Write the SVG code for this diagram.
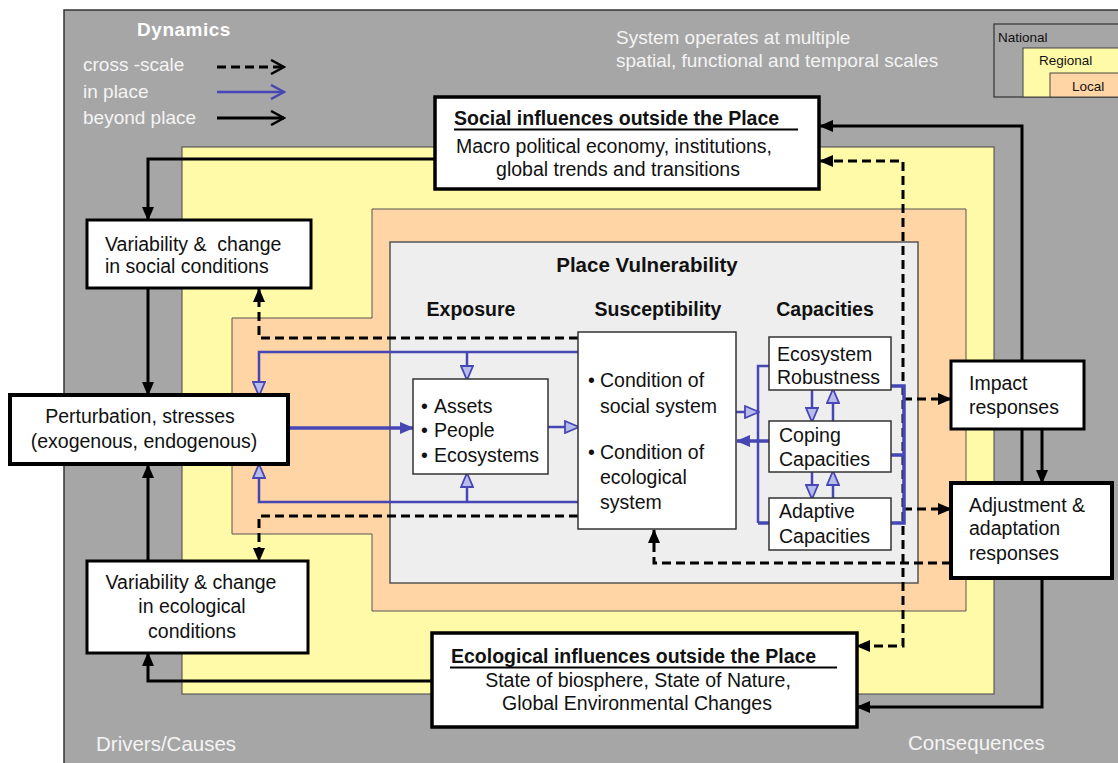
<svg xmlns="http://www.w3.org/2000/svg" width="1118" height="763" viewBox="0 0 1118 763">
<style>
text{font-family:"Liberation Sans",Arial,sans-serif;fill:#111}
.b{font-size:19.5px}
.h{font-size:19.5px;font-weight:bold}
.lt{fill:#f4f4f4;font-size:19px}
.lc{fill:#f4f4f4;font-size:20.5px}
.lg{font-size:13.5px}
.box{fill:#fff;stroke:#000}
.ibox{fill:#fff;stroke:#333;stroke-width:1.5}
.k{fill:none;stroke:#000;stroke-width:3}
.d{fill:none;stroke:#000;stroke-width:3;stroke-dasharray:9 5}
.u{fill:none;stroke:#4646b4;stroke-width:2.5}
.uf{fill:none;stroke:#4646b4;stroke-width:3.5}
.ul{stroke:#000;stroke-width:2}
</style>
<defs>
<marker id="ak" markerUnits="userSpaceOnUse" viewBox="0 0 14 12" markerWidth="14" markerHeight="12" refX="13" refY="6" orient="auto-start-reverse"><path d="M0,0 L14,6 L0,12 z" fill="#000"/></marker>
<marker id="ab" markerUnits="userSpaceOnUse" viewBox="0 0 16 14" markerWidth="16" markerHeight="14" refX="14" refY="7" orient="auto"><path d="M1,1 L15,7 L1,13 z" fill="#b8bcec" stroke="#4646b4" stroke-width="1.8"/></marker>
<marker id="abf" markerUnits="userSpaceOnUse" viewBox="0 0 14 12" markerWidth="14" markerHeight="12" refX="13" refY="6" orient="auto"><path d="M0,0 L14,6 L0,12 z" fill="#4646b4"/></marker>
<marker id="chk" markerUnits="userSpaceOnUse" viewBox="0 0 16 16" markerWidth="16" markerHeight="16" refX="14" refY="8" orient="auto"><path d="M1,1 L14,8 L1,15" fill="none" stroke="#000" stroke-width="2.5"/></marker>
<marker id="chb" markerUnits="userSpaceOnUse" viewBox="0 0 16 16" markerWidth="16" markerHeight="16" refX="14" refY="8" orient="auto"><path d="M1,1 L14,8 L1,15" fill="none" stroke="#4646b4" stroke-width="2.5"/></marker>
</defs>

<!-- scale layers -->
<g id="layers">
<rect x="64" y="10" width="1060" height="760" fill="#a6a6a6" stroke="#333" stroke-width="1.5"/>
<rect x="182" y="147" width="812" height="547" fill="#fffaa8" stroke="#444" stroke-width="1"/>
<polygon points="372,209 966,209 966,611 372,611 372,534 232,534 232,318 372,318" fill="#ffd5a6" stroke="#555" stroke-width="1"/>
<rect x="390" y="242" width="528" height="341" fill="#eeeeee" stroke="#555" stroke-width="1.5"/>
</g>

<!-- legend -->
<g id="legend-dynamics">
<text x="184" y="36" text-anchor="middle" style="fill:#fff;font-size:19px;font-weight:bold;letter-spacing:0.5px">Dynamics</text>
<text x="83" y="71" class="lt">cross -scale</text>
<text x="83" y="98" class="lt">in place</text>
<text x="83" y="124" class="lt">beyond place</text>
<path d="M217,67 H284" class="d" stroke-dasharray="4 4 9 5 9 5 9 5 9 5" marker-end="url(#chk)"/>
<path d="M217,92 H284" class="u" marker-end="url(#chb)"/>
<path d="M217,118 H284" class="k" marker-end="url(#chk)"/>
</g>
<g id="legend-scales">
<text x="616" y="44" class="lt">System operates at multiple</text>
<text x="616" y="67" class="lt">spatial, functional and temporal scales</text>
<rect x="994" y="24" width="130" height="73" fill="#a6a6a6" stroke="#333" stroke-width="1.2"/>
<rect x="1023" y="48" width="100" height="49" fill="#fffaa8" stroke="#444" stroke-width="1"/>
<rect x="1050" y="73" width="80" height="24" fill="#ffd5a6" stroke="#444" stroke-width="1"/>
<text x="998" y="42" class="lg">National</text>
<text x="1039" y="65" class="lg">Regional</text>
<text x="1072" y="91" class="lg">Local</text>
</g>
<text x="96" y="751" class="lc">Drivers/Causes</text>
<text x="908" y="750" class="lc">Consequences</text>

<!-- connectors -->
<g id="connectors">
<!-- beyond place -->
<path d="M435,159 H148 V220" class="k" marker-end="url(#ak)"/>
<path d="M148,289 V395" class="k" marker-end="url(#ak)"/>
<path d="M148,561 V465" class="k" marker-end="url(#ak)"/>
<path d="M432,681 H148 V653" class="k" marker-end="url(#ak)"/>
<path d="M1022,483 V126 H820" class="k" marker-end="url(#ak)"/>
<path d="M1042,429 V483" class="k" marker-end="url(#ak)"/>
<path d="M1042,578 V707 H857" class="k" marker-end="url(#ak)"/>
<!-- cross-scale -->
<path d="M578,338 H259 V289" class="d" marker-end="url(#ak)"/>
<path d="M578,516 H259 V561" class="d" marker-end="url(#ak)"/>
<path d="M820,161 H903 V646 H857" class="d" marker-start="url(#ak)" marker-end="url(#ak)"/>
<path d="M903,399 H951" class="d" marker-end="url(#ak)"/>
<path d="M903,509 H951" class="d" marker-end="url(#ak)"/>
<path d="M951,563 H654 V530" class="d" marker-end="url(#ak)"/>
<!-- in place -->
<path d="M578,352 H259 V395" class="u" marker-end="url(#ab)"/>
<path d="M467,352 V379" class="u" marker-end="url(#ab)"/>
<path d="M578,502 H259 V465" class="u" marker-end="url(#ab)"/>
<path d="M467,502 V474" class="u" marker-end="url(#ab)"/>
<path d="M288,428 H413" class="uf" marker-end="url(#abf)"/>
<path d="M548,427 H578" class="u" marker-end="url(#ab)"/>
<path d="M736,412 H758" class="u" marker-end="url(#ab)"/>
<path d="M769,441 H737" class="uf" marker-end="url(#abf)"/>
<path d="M769,366 H758 V523" class="u" stroke-width="2"/>
<path d="M758,523 H769" class="uf"/>
<path d="M891,386 H904 V523 H891" class="uf"/>
<path d="M891,455 H904" class="uf"/>
<path d="M812,390 V421" class="u" marker-end="url(#ab)"/>
<path d="M833,421 V390" class="u" marker-end="url(#ab)"/>
<path d="M812,472 V498" class="u" marker-end="url(#ab)"/>
<path d="M833,498 V472" class="u" marker-end="url(#ab)"/>
</g>

<!-- nodes -->
<g id="social-influences">
<rect x="435" y="97" width="384" height="92" class="box" stroke-width="3.5"/>
<text x="454" y="125" class="h">Social influences outside the Place</text>
<line x1="454" y1="129.5" x2="798" y2="129.5" class="ul"/>
<text x="614" y="153" class="b" text-anchor="middle">Macro political economy, institutions,</text>
<text x="618" y="176" class="b" text-anchor="middle">global trends and transitions</text>
</g>
<g id="ecological-influences">
<rect x="432" y="633" width="425" height="94" class="box" stroke-width="3.5"/>
<text x="451" y="663" class="h">Ecological influences outside the Place</text>
<line x1="450" y1="667.5" x2="837" y2="667.5" class="ul"/>
<text x="638" y="687" class="b" text-anchor="middle">State of biosphere, State of Nature,</text>
<text x="637" y="710" class="b" text-anchor="middle">Global Environmental Changes</text>
</g>
<g id="var-social">
<rect x="87" y="220" width="224" height="68" class="box" stroke-width="3"/>
<text x="105" y="251" class="b" style="white-space:pre">Variability &amp;  change</text>
<text x="105" y="273" class="b">in social conditions</text>
</g>
<g id="perturbation">
<rect x="10" y="395" width="278" height="69" class="box" stroke-width="4"/>
<text x="140" y="423" class="b" text-anchor="middle">Perturbation, stresses</text>
<text x="144" y="448" class="b" text-anchor="middle">(exogenous, endogenous)</text>
</g>
<g id="var-ecological">
<rect x="87" y="561" width="221" height="92" class="box" stroke-width="3"/>
<text x="191" y="589" class="b" text-anchor="middle">Variability &amp; change</text>
<text x="192" y="613" class="b" text-anchor="middle">in ecological</text>
<text x="192" y="638" class="b" text-anchor="middle">conditions</text>
</g>
<g id="impact">
<rect x="951" y="361" width="133" height="68" class="box" stroke-width="3"/>
<text x="969" y="390" class="b">Impact</text>
<text x="969" y="414" class="b">responses</text>
</g>
<g id="adjustment">
<rect x="951" y="483" width="161" height="95" class="box" stroke-width="4"/>
<text x="969" y="512" class="b">Adjustment &amp;</text>
<text x="969" y="535" class="b">adaptation</text>
<text x="969" y="560" class="b">responses</text>
</g>
<g id="place-vulnerability">
<text x="647" y="272" text-anchor="middle" style="font-size:20.5px;font-weight:bold">Place Vulnerability</text>
<text x="471" y="316" class="h" text-anchor="middle">Exposure</text>
<text x="658" y="316" class="h" text-anchor="middle">Susceptibility</text>
<text x="825" y="316" class="h" text-anchor="middle">Capacities</text>
</g>
<g id="exposure">
<rect x="413" y="379" width="135" height="95" class="ibox"/>
<text x="421" y="413" class="b">•</text><text x="434" y="413" class="b">Assets</text>
<text x="421" y="437" class="b">•</text><text x="434" y="437" class="b">People</text>
<text x="421" y="462" class="b">•</text><text x="434" y="462" class="b">Ecosystems</text>
</g>
<g id="susceptibility">
<rect x="578" y="332" width="158" height="197" class="ibox"/>
<text x="588" y="387" class="b">•</text><text x="600" y="387" class="b">Condition of</text>
<text x="600" y="413" class="b">social system</text>
<text x="588" y="459" class="b">•</text><text x="600" y="459" class="b">Condition of</text>
<text x="600" y="484" class="b">ecological</text>
<text x="600" y="509" class="b">system</text>
</g>
<g id="ecosystem-robustness">
<rect x="769" y="337" width="122" height="53" class="ibox"/>
<text x="777" y="361" class="b">Ecosystem</text>
<text x="777" y="384" class="b">Robustness</text>
</g>
<g id="coping">
<rect x="769" y="421" width="122" height="51" class="ibox"/>
<text x="779" y="442" class="b">Coping</text>
<text x="779" y="466" class="b">Capacities</text>
</g>
<g id="adaptive">
<rect x="769" y="498" width="122" height="52" class="ibox"/>
<text x="779" y="518" class="b">Adaptive</text>
<text x="779" y="543" class="b">Capacities</text>
</g>
</svg>
